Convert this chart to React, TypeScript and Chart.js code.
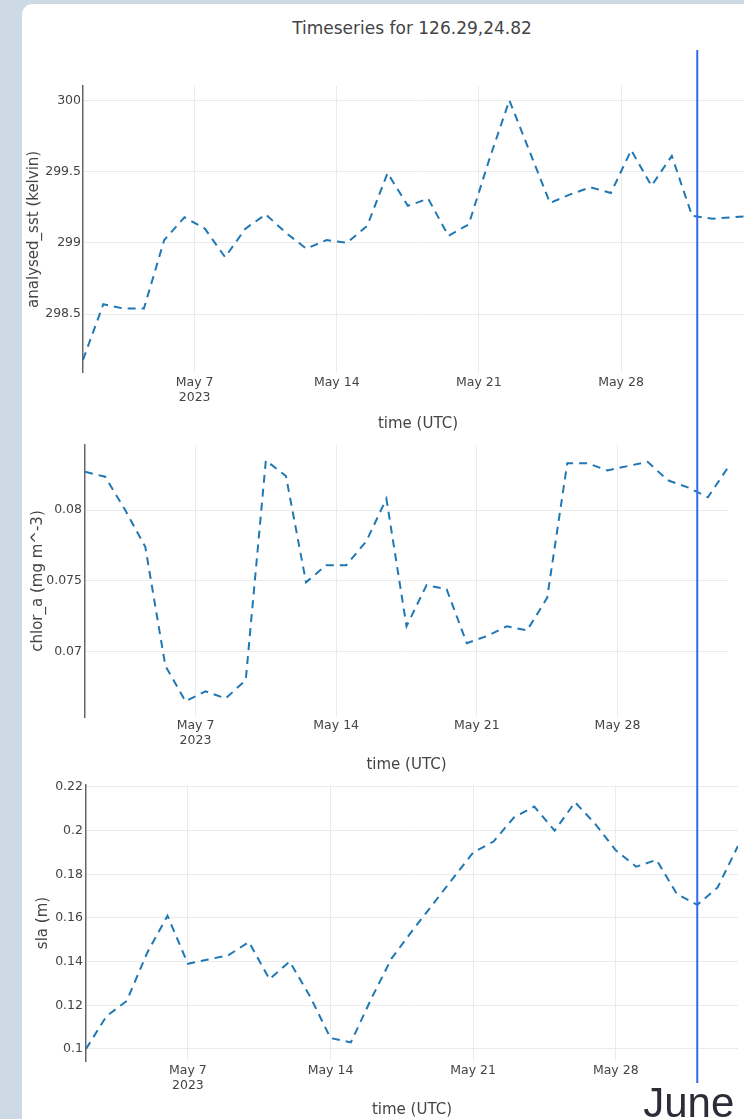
import React, { useEffect, useRef } from "react";
import { Chart, registerables } from "chart.js";
Chart.register(...registerables);

// ---------- data ----------
const TITLE = "Timeseries for 126.29,24.82";
const X_TITLE = "time (UTC)";
const EPOCH = "2023-05-01T00:00:00Z";

const xTickDates = ["2023-05-07T00:00:00Z", "2023-05-14T00:00:00Z", "2023-05-21T00:00:00Z", "2023-05-28T00:00:00Z"];
const xTickLabels: (string | string[])[] = [["May 7", "2023"], "May 14", "May 21", "May 28"];

const markerDate = "2023-06-01T00:00:00Z";
const markerLabel = "June";

const sstTitle = "analysed_sst (kelvin)";
const sstStart = "2023-05-01T12:00:00Z";
const sstValues = [
  298.18, 298.57, 298.54, 298.54, 299.02, 299.18, 299.1, 298.9, 299.1, 299.2,
  299.07, 298.96, 299.02, 299.0, 299.12, 299.49, 299.26, 299.31, 299.05, 299.13,
  299.58, 300.0, 299.64, 299.28, 299.34, 299.39, 299.35, 299.65, 299.4, 299.61,
  299.19, 299.17, 299.18, 299.19,
];
const sstTicks = [298.5, 299, 299.5, 300];
const sstTickLabels = ["298.5", "299", "299.5", "300"];
const sstRange = [298.09, 300.1];

const chlTitle = "chlor_a (mg m^-3)";
const chlStart = "2023-05-01T12:00:00Z";
const chlValues = [
  0.0827, 0.08235, 0.08, 0.0774, 0.069, 0.0665, 0.0672, 0.0667, 0.068, 0.0835,
  0.0824, 0.0749, 0.0761, 0.0761, 0.0778, 0.0808, 0.0718, 0.0747, 0.0744, 0.0706,
  0.0711, 0.0718, 0.0715, 0.0738, 0.0833, 0.0833, 0.0828, 0.0831, 0.0834, 0.0821,
  0.0816, 0.0809, 0.083,
];
const chlTicks = [0.07, 0.075, 0.08];
const chlTickLabels = ["0.07", "0.075", "0.08"];
const chlRange = [0.06539, 0.08459];

const slaTitle = "sla (m)";
const slaStart = "2023-05-02T00:00:00Z";
const slaValues = [
  0.1, 0.115, 0.122, 0.144, 0.161, 0.139, 0.141, 0.143, 0.149, 0.132,
  0.14, 0.124, 0.105, 0.103, 0.123, 0.1415, 0.154, 0.166, 0.178, 0.19,
  0.195, 0.206, 0.211, 0.2, 0.213, 0.203, 0.191, 0.1835, 0.1866, 0.171,
  0.166, 0.174, 0.193,
];
const slaTicks = [0.1, 0.12, 0.14, 0.16, 0.18, 0.2, 0.22];
const slaTickLabels = ["0.1", "0.12", "0.14", "0.16", "0.18", "0.2", "0.22"];
const slaRange = [0.0945, 0.2209];

// ---------- helpers ----------
const DAY = 86400000;
const dayOf = (iso: string) => (Date.parse(iso) - Date.parse(EPOCH)) / DAY;

const FONT = "'DejaVu Sans', Verdana, sans-serif";
const TEXT = "#444";
const GRID = "#ebebeb";
const LINE = "#1f77b4";

type Panel = {
  title: string;
  start: string;
  values: number[];
  ticks: number[];
  tickLabels: string[];
  range: number[];
  // layout
  top: number;
  width: number;
  height: number;
  yAxisWidth: number;
  padTop: number;
  xAxisHeight: number;
  yTitlePad: number;
  yTickPad: number;
  xTickPad: number;
  xTitlePad: number;
};

const panels: Panel[] = [
  {
    title: sstTitle, start: sstStart, values: sstValues, ticks: sstTicks, tickLabels: sstTickLabels, range: sstRange,
    top: 8, width: 731, height: 426, yAxisWidth: 61, padTop: 78, xAxisHeight: 61.3,
    yTitlePad: 3.5, yTickPad: 2, xTickPad: 2.8, xTitlePad: 0.5,
  },
  {
    title: chlTitle, start: chlStart, values: chlValues, ticks: chlTicks, tickLabels: chlTickLabels, range: chlRange,
    top: 434, width: 706, height: 340, yAxisWidth: 63, padTop: 11, xAxisHeight: 57,
    yTitlePad: 7, yTickPad: 3, xTickPad: 1.5, xTitlePad: 0,
  },
  {
    title: slaTitle, start: slaStart, values: slaValues, ticks: slaTicks, tickLabels: slaTickLabels, range: slaRange,
    top: 774, width: 716, height: 345, yAxisWidth: 64, padTop: 11, xAxisHeight: 58,
    yTitlePad: 12.5, yTickPad: 3, xTickPad: 2.5, xTitlePad: 0,
  },
];

const CANVAS_LEFT = 22;

function makeChart(canvas: HTMLCanvasElement, p: Panel) {
  const x0 = dayOf(p.start);
  const pts = p.values.map((v, i) => ({ x: x0 + i, y: v }));
  const xTicks = xTickDates.map(dayOf);
  return new Chart(canvas, {
    type: "line",
    data: {
      datasets: [
        {
          data: pts,
          borderColor: LINE,
          borderWidth: 2,
          borderDash: [8, 6],
          pointRadius: 0,
          tension: 0,
          fill: false,
        },
      ],
    },
    options: {
      animation: false,
      responsive: false,
      maintainAspectRatio: false,
      events: [],
      layout: { padding: { top: p.padTop, left: 0, right: 0, bottom: 0 } },
      plugins: { legend: { display: false }, tooltip: { enabled: false }, title: { display: false } },
      scales: {
        x: {
          type: "linear",
          min: pts[0].x,
          max: pts[pts.length - 1].x,
          afterBuildTicks: (s: any) => {
            s.ticks = xTicks.map((v) => ({ value: v }));
          },
          afterFit: (s: any) => {
            s.height = p.xAxisHeight;
          },
          ticks: {
            autoSkip: false,
            maxRotation: 0,
            padding: p.xTickPad,
            color: TEXT,
            font: { family: FONT, size: 12.5 },
            callback: (_v: any, i: number) => xTickLabels[i],
          },
          grid: { color: GRID, drawTicks: false, lineWidth: 1 },
          border: { display: false },
          title: {
            display: true,
            text: X_TITLE,
            color: TEXT,
            font: { family: FONT, size: 15 },
            padding: { top: 0, bottom: p.xTitlePad },
          },
        },
        y: {
          type: "linear",
          min: p.range[0],
          max: p.range[1],
          afterBuildTicks: (s: any) => {
            s.ticks = p.ticks.map((v) => ({ value: v }));
          },
          afterFit: (s: any) => {
            s.width = p.yAxisWidth;
          },
          ticks: {
            padding: p.yTickPad,
            color: TEXT,
            font: { family: FONT, size: 12.5 },
            callback: (_v: any, i: number) => p.tickLabels[i],
          },
          grid: { color: GRID, drawTicks: false, lineWidth: 1 },
          border: { display: true, color: "#666", width: 1.5 },
          title: {
            display: true,
            text: p.title,
            color: TEXT,
            font: { family: FONT, size: 15 },
            padding: { top: p.yTitlePad, bottom: 0 },
          },
        },
      },
    } as any,
  });
}

export default function App() {
  const refs = [useRef<HTMLCanvasElement>(null), useRef<HTMLCanvasElement>(null), useRef<HTMLCanvasElement>(null)];
  const overlayRef = useRef<HTMLCanvasElement>(null);

  useEffect(() => {
    const charts = panels.map((p, i) => makeChart(refs[i].current!, p));

    // annotation overlay: vertical marker at the start of June, located through the bottom chart's x scale
    const ov = overlayRef.current!;
    const dpr = window.devicePixelRatio || 1;
    ov.width = 744 * dpr;
    ov.height = 1119 * dpr;
    const ctx = ov.getContext("2d")!;
    ctx.setTransform(dpr, 0, 0, dpr, 0, 0);
    ctx.clearRect(0, 0, 744, 1119);
    const last = charts[charts.length - 1];
    const mx = CANVAS_LEFT + last.scales.x.getPixelForValue(dayOf(markerDate));
    ctx.strokeStyle = "#2f6af5";
    ctx.lineWidth = 2;
    ctx.beginPath();
    ctx.moveTo(mx, 50);
    ctx.lineTo(mx, 1083);
    ctx.stroke();
    ctx.fillStyle = "#2c2c38";
    ctx.font = "42px 'Liberation Sans', Arial, sans-serif";
    ctx.textAlign = "left";
    ctx.textBaseline = "alphabetic";
    ctx.fillText(markerLabel, mx - 54, 1117);

    return () => charts.forEach((c) => c.destroy());
  }, []);

  return (
    <div
      style={{
        position: "fixed",
        left: 0,
        top: 0,
        width: 744,
        height: 1119,
        overflow: "hidden",
        background: "#cdd9e5",
      }}
    >
      <div
        style={{
          position: "absolute",
          left: 22,
          top: 4,
          width: 760,
          height: 1140,
          background: "#ffffff",
          borderTopLeftRadius: 10,
        }}
      />
      <div
        style={{
          position: "absolute",
          left: 0,
          top: 18,
          width: 824,
          textAlign: "center",
          font: `17px ${FONT}`,
          lineHeight: "20px",
          color: TEXT,
          whiteSpace: "nowrap",
        }}
      >
        {TITLE}
      </div>
      {panels.map((p, i) => (
        <canvas
          key={i}
          ref={refs[i]}
          width={p.width}
          height={p.height}
          style={{ position: "absolute", left: CANVAS_LEFT, top: p.top, width: p.width, height: p.height }}
        />
      ))}
      <canvas
        ref={overlayRef}
        style={{ position: "absolute", left: 0, top: 0, width: 744, height: 1119, pointerEvents: "none" }}
      />
    </div>
  );
}
